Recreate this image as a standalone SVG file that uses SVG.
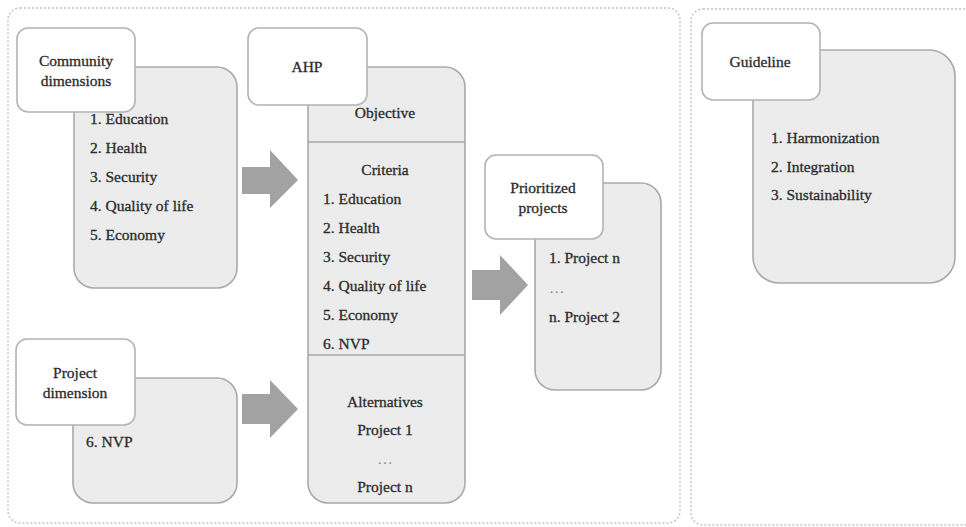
<svg xmlns="http://www.w3.org/2000/svg" width="966" height="527" viewBox="0 0 966 527">
  <style>
    .frame { fill: #ffffff; stroke: #c4c4c4; stroke-width: 1.5; stroke-dasharray: 2 2; }
    .panel { fill: #ececec; stroke: #a9a9a9; stroke-width: 1.6; }
    .label { fill: #ffffff; stroke: #b3b3b3; stroke-width: 1.6; }
    .divider { stroke: #a9a9a9; stroke-width: 1.6; }
    .arrow { fill: #a2a2a2; }
    text { font-family: "Liberation Serif", "Times New Roman", serif; font-size: 15.5px; fill: #2b2b2b; stroke: #2b2b2b; stroke-width: 0.3; }
    .c { text-anchor: middle; }
    .dots { fill: #8a8a8a; stroke: none; }
  </style>

  <!-- outer frames -->
  <rect class="frame" x="8" y="8" width="672" height="515" rx="12"/>
  <rect class="frame" x="691" y="9" width="285" height="516" rx="12"/>

  <!-- community dimensions -->
  <g id="community">
    <rect class="panel" x="74" y="67" width="163" height="221" rx="20"/>
    <rect class="label" x="17" y="28" width="118" height="84" rx="11"/>
    <text class="c" x="76" y="66">Community</text>
    <text class="c" x="76" y="86">dimensions</text>
    <text x="90" y="124">1. Education</text>
    <text x="90" y="153">2. Health</text>
    <text x="90" y="182">3. Security</text>
    <text x="90" y="211">4. Quality of life</text>
    <text x="90" y="240">5. Economy</text>
  </g>

  <!-- project dimension -->
  <g id="project">
    <rect class="panel" x="73" y="378" width="164" height="125" rx="20"/>
    <rect class="label" x="16" y="339" width="119" height="86" rx="11"/>
    <text class="c" x="75" y="378">Project</text>
    <text class="c" x="75" y="398">dimension</text>
    <text x="86" y="447">6. NVP</text>
  </g>

  <!-- AHP -->
  <g id="ahp">
    <rect class="panel" x="308" y="67" width="157" height="436" rx="20"/>
    <line class="divider" x1="308" y1="142" x2="465" y2="142"/>
    <line class="divider" x1="308" y1="355" x2="465" y2="355"/>
    <rect class="label" x="248" y="28" width="119" height="77" rx="11"/>
    <text class="c" x="307" y="72">AHP</text>
    <text class="c" x="385" y="118">Objective</text>
    <text class="c" x="385" y="175">Criteria</text>
    <text x="323" y="204">1. Education</text>
    <text x="323" y="233">2. Health</text>
    <text x="323" y="262">3. Security</text>
    <text x="323" y="291">4. Quality of life</text>
    <text x="323" y="320">5. Economy</text>
    <text x="323" y="349">6. NVP</text>
    <text class="c" x="385" y="407">Alternatives</text>
    <text class="c" x="385" y="435">Project 1</text>
    <text class="c dots" x="385" y="464">…</text>
    <text class="c" x="385" y="492">Project n</text>
  </g>

  <!-- prioritized projects -->
  <g id="prioritized">
    <rect class="panel" x="535" y="183" width="126" height="207" rx="20"/>
    <rect class="label" x="485" y="155" width="118" height="84" rx="11"/>
    <text class="c" x="543" y="193">Prioritized</text>
    <text class="c" x="543" y="213">projects</text>
    <text x="549" y="263">1. Project n</text>
    <text class="dots" x="549" y="293">…</text>
    <text x="549" y="322">n. Project 2</text>
  </g>

  <!-- guideline -->
  <g id="guideline">
    <rect class="panel" x="753" y="50" width="202" height="233" rx="26"/>
    <rect class="label" x="702" y="23" width="118" height="77" rx="11"/>
    <text class="c" x="760" y="67">Guideline</text>
    <text x="771" y="143">1. Harmonization</text>
    <text x="771" y="172">2. Integration</text>
    <text x="771" y="200">3. Sustainability</text>
  </g>

  <!-- block arrows -->
  <g id="connectors">
    <polygon class="arrow" points="242,167 270,167 270,150 298,180 270,208 270,194 242,194"/>
    <polygon class="arrow" points="242,394 270,394 270,380 298,409 270,438 270,424 242,424"/>
    <polygon class="arrow" points="472,270 500,270 500,255 528,285 500,315 500,300 472,300"/>
  </g>
</svg>
